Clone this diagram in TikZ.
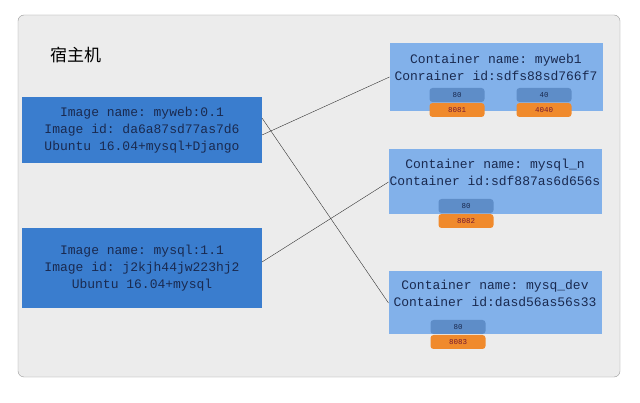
\documentclass[tikz,border=0pt]{standalone}
\usepackage{fontspec}
\setmonofont{Liberation Mono}
\newfontfamily\cjk{Noto Sans CJK SC}
\usetikzlibrary{positioning}
\definecolor{hostgray}{HTML}{ECECEC}
\definecolor{imgblue}{HTML}{3A7DCE}
\definecolor{conblue}{HTML}{82B1EA}
\definecolor{portblue}{HTML}{5E8DC8}
\definecolor{portorange}{HTML}{F08A2C}
\definecolor{txtblue}{HTML}{1A2A50}
\begin{document}
\begin{tikzpicture}[x=1pt,y=-1pt,inner sep=0pt,outer sep=0pt,
imgbox/.style={fill=imgblue,minimum width=240pt,minimum height=66pt,align=center,
  font=\ttfamily\fontsize{13}{17}\selectfont,text=txtblue},
conbox/.style={fill=conblue,minimum width=213pt,minimum height=66pt,align=center,
  font=\ttfamily\fontsize{13}{17}\selectfont,text=txtblue},
inport/.style={fill=portblue,rounded corners=3pt,minimum width=55pt,minimum height=14pt,
  font=\ttfamily\fontsize{7.5}{8}\selectfont,text=txtblue},
outport/.style={fill=portorange,rounded corners=3pt,minimum width=55pt,minimum height=14pt,
  font=\ttfamily\fontsize{7.5}{8}\selectfont,text=txtblue!60!red}]
\useasboundingbox (0,0) rectangle (640,403);
\fill[white] (0,0) rectangle (640,403);
\draw[gray!80,fill=hostgray,rounded corners=6pt] (18,15) rectangle (620,377);
\node[font=\cjk\fontsize{17}{20}\selectfont,anchor=west] (host) at (50,55) {宿主机};

\node[imgbox] (img1) at (142,130) {Image name:  myweb:0.1\\Image id: da6a87sd77as7d6\\Ubuntu 16.04+mysql+Django};
\node[imgbox,minimum height=80pt] (img2) at (142,268) {Image name: mysql:1.1\\Image id: j2kjh44jw223hj2\\Ubuntu 16.04+mysql};

\node[conbox,minimum height=68pt] (con1) at (496,77) {Container name: myweb1\\Conrainer id:sdfs88sd766f7\\[2pt]};
\node[conbox,minimum height=65pt] (con2) at (495,182) {Container name:  mysql\_n\\Container id:sdf887as6d656s\\[2pt]};
\node[conbox,minimum height=63pt] (con3) at (495,303) {Container name: mysq\_dev\\Container id:dasd56as56s33\\[2pt]};

\node[inport] (c1a) at (457,95) {80};
\node[outport,below=1pt of c1a] (c1b) {8081};
\node[inport] (c1c) at (544,95) {40};
\node[outport,below=1pt of c1c] (c1d) {4040};
\node[inport] (c2a) at (466,206) {80};
\node[outport,below=1pt of c2a] (c2b) {8082};
\node[inport] (c3a) at (458,327) {80};
\node[outport,below=1pt of c3a] (c3b) {8083};

\draw[black!80,thin] (img1.east) ++(0,5) coordinate (i1a) -- (con1.west);
\draw[black!80,thin] (img1.east) ++(0,-12) coordinate (i1b) -- (con3.west);
\draw[black!80,thin] (img2.east) ++(0,-6) coordinate (i2a) -- (con2.west);
\end{tikzpicture}
\end{document}
